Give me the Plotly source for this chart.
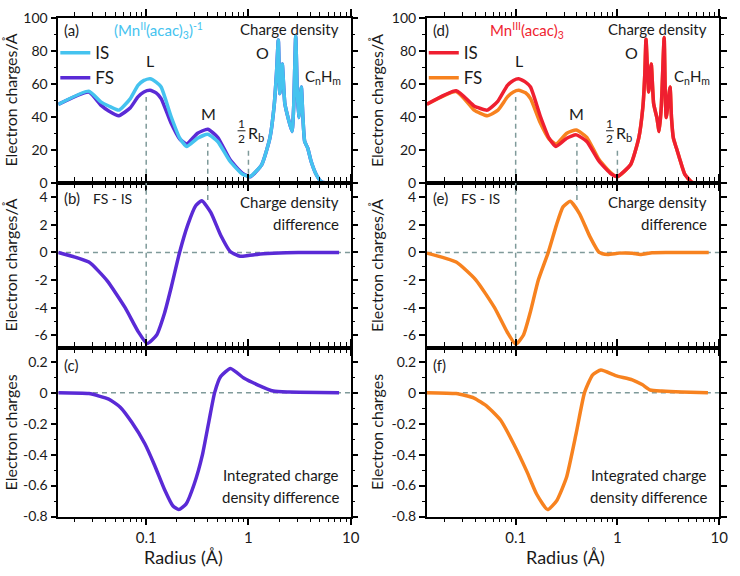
import plotly.graph_objects as go

# ---------------- data ----------------
# (a) charge density, (Mn^II(acac)3)^-1
r_a = [0.0138, 0.0275, 0.036, 0.043, 0.054, 0.07, 0.083, 0.095, 0.109, 0.125, 0.14, 0.174,
       0.213, 0.249, 0.318, 0.4, 0.5, 0.66, 0.87, 1.04, 1.35, 1.62, 1.78, 1.88, 1.96, 2.03,
       2.14, 2.27, 2.45, 2.67, 2.77, 2.9, 3.0, 3.1, 3.29, 3.41, 3.55, 3.8, 4.1, 4.6, 5.2, 6.0, 7.7]
is_a = [47.5, 55.5, 49, 46.5, 44, 51, 59, 62, 63, 61, 58, 40.6,
        27, 22, 27, 29.4, 25, 13, 5.3, 3.8, 11, 27, 46, 66, 86.5, 54,
        72, 48, 39, 31, 46, 89, 56, 39.5, 58, 39.5, 25, 21, 13, 5, 0.5, 0, 0]
fs_a = [47.5, 55, 47, 43.5, 40.6, 45.5, 52, 55, 56, 54.5, 51, 36.5,
        26.5, 23.5, 30, 32.4, 27.5, 14, 5.8, 3.6, 11, 27, 46, 66, 86.5, 54,
        72, 48, 39, 31, 46, 89, 56, 39.5, 58, 39.5, 25, 21, 13, 5, 0.5, 0, 0]

# (d) charge density, Mn^III(acac)3
r_d = [0.0134, 0.026, 0.036, 0.039, 0.0526, 0.067, 0.083, 0.095, 0.107, 0.125, 0.14, 0.174,
       0.213, 0.249, 0.318, 0.394, 0.5, 0.66, 0.87, 1.0, 1.35, 1.62, 1.78, 1.86, 1.91, 2.03,
       2.15, 2.27, 2.45, 2.57, 2.7, 2.88, 2.95, 3.02, 3.29, 3.4, 3.55, 3.8, 4.07, 4.6, 5.4, 6.0, 7.9]
is_d = [47.6, 55.8, 48.5, 46.5, 44, 49.5, 59, 62, 63, 61, 58, 40.6,
        27, 22, 27, 29, 25, 13, 5.3, 3.8, 11, 27, 46, 66, 87, 55,
        72, 48, 39, 31, 46, 88, 56, 39.5, 58, 39.5, 27, 21, 15, 5, 0.3, 0, 0]
fs_d = [47.6, 55.3, 46.5, 44, 40.6, 44, 52, 55, 56, 54.5, 51, 36.5,
        26.5, 23.5, 30, 32, 27.5, 14, 5.8, 3.6, 11, 27, 46, 66, 87, 55,
        72, 48, 39, 31, 46, 88, 56, 39.5, 58, 39.5, 27, 21, 15, 5, 0.3, 0, 0]

# (b) / (e) charge density difference FS - IS
r_b = [0.0138, 0.0275, 0.0414, 0.0622, 0.0837, 0.102, 0.126, 0.151, 0.176, 0.212, 0.255,
       0.306, 0.35, 0.428, 0.535, 0.667, 0.83, 1.0, 1.4, 2.35, 4.0, 7.7]
diff_b = [0.0, -0.7, -2.04, -4.0, -5.75, -6.6, -6.0, -4.4, -2.5, 0.0, 2.0,
          3.4, 3.75, 2.9, 1.25, 0.05, -0.28, -0.22, -0.1, -0.02, 0.0, 0.0]
r_e = [0.0134, 0.026, 0.0407, 0.062, 0.083, 0.1, 0.119, 0.139, 0.167, 0.209, 0.252,
       0.292, 0.344, 0.425, 0.532, 0.663, 0.8, 1.04, 1.4, 1.68, 2.19, 3.0, 4.5, 7.9]
diff_e = [-0.05, -0.7, -2.0, -4.0, -5.8, -6.65, -6.0, -4.35, -2.0, 0.0, 2.0,
          3.3, 3.7, 2.8, 1.2, 0.0, -0.15, -0.05, -0.06, -0.15, -0.02, 0.0, 0.0, 0.0]

# (c) / (f) integrated charge density difference
r_c = [0.0138, 0.0275, 0.043, 0.0557, 0.072, 0.097, 0.121, 0.151, 0.182, 0.208, 0.245,
       0.295, 0.355, 0.412, 0.467, 0.535, 0.667, 0.9, 1.21, 1.75, 2.5, 7.7]
int_c = [0.0, -0.006, -0.042, -0.094, -0.19, -0.33, -0.47, -0.625, -0.73, -0.755, -0.72,
         -0.59, -0.4, -0.18, 0.0, 0.104, 0.156, 0.094, 0.052, 0.01, 0.004, 0.0]
r_f = [0.0134, 0.026, 0.039, 0.0526, 0.071, 0.096, 0.129, 0.161, 0.206, 0.252, 0.315,
       0.394, 0.475, 0.571, 0.689, 0.96, 1.4, 1.75, 2.1, 2.73, 4.28, 7.76]
int_f = [0.0, -0.006, -0.035, -0.09, -0.177, -0.333, -0.51, -0.656, -0.755, -0.7, -0.55,
         -0.26, 0.0, 0.115, 0.146, 0.11, 0.083, 0.052, 0.017, 0.01, 0.004, 0.0]

# reference-line positions (L, M, 1/2 Rb) and their heights
ref_r = [0.1, 0.4, 1.0]
ref_top_a = [52, 24, 21.8]

x_major = [0.01, 0.1, 1, 10]
x_major_text = ["0.01", "0.1", "1", "10"]
x_minor = [k * 10.0 ** e for e in (-2, -1, 0) for k in range(2, 10)]

C_IS_L, C_FS_L = "#45c3ef", "#5a2ad6"
C_IS_R, C_FS_R = "#ef1f30", "#f7821f"
C_DASH = "#7f9a9a"
FONT = "Lato"
TXT = "#1a1a1a"

W, H = 740, 576
def PX(x): return x / W
def PY(y): return 1 - y / H

fig = go.Figure()

cols = {"L": (59, 355), "R": (432, 728)}
rows = {"a": (9, 179), "b": (179, 349), "c": (349, 523)}
ids = {("L", "a"): 1, ("L", "b"): 2, ("L", "c"): 3, ("R", "a"): 4, ("R", "b"): 5, ("R", "c"): 6}
xlo = {"L": -1.86, "R": -1.874}

yspec = {
    "a": dict(range=[0, 100], tickvals=[0, 20, 40, 60, 80, 100], ticktext=["0", "20", "40", "60", "80", "100"], minor=10),
    "b": dict(range=[-6.9, 5.05], tickvals=[-6, -4, -2, 0, 2, 4], ticktext=["-6", "-4", "-2", "0", "2", "4"], minor=1),
    "c": dict(range=[-0.8, 0.29], tickvals=[-0.8, -0.6, -0.4, -0.2, 0, 0.2], ticktext=["-0.8", "-0.6", "-0.4", "-0.2", "0", "0.2"], minor=0.1),
}

layout = dict(width=W, height=H, margin=dict(l=0, r=0, t=0, b=0), autosize=False,
              paper_bgcolor="white", plot_bgcolor="white",
              font=dict(family=FONT, color=TXT, size=15), showlegend=True)

for (c, rw), i in ids.items():
    sfx = "" if i == 1 else str(i)
    xa, ya = "xaxis" + sfx, "yaxis" + sfx
    x0, x1 = cols[c]
    y0, y1 = rows[rw]
    layout[xa] = dict(type="log", range=[xlo[c], 1.0], domain=[PX(x0), PX(x1)], anchor="y" + sfx,
                      showline=True, linecolor="black", linewidth=1.5, mirror="ticks",
                      ticks="outside", ticklen=7, tickwidth=1.5, tickcolor="black",
                      tickvals=x_major, ticktext=x_major_text, showticklabels=(rw == "c"),
                      showgrid=False, zeroline=False, tickfont=dict(size=15, color=TXT),
                      ticklabeloverflow="allow",
                      minor=dict(tickvals=x_minor, ticks="outside", ticklen=4, tickwidth=1.2,
                                 tickcolor="black", showgrid=False))
    ys = yspec[rw]
    layout[ya] = dict(range=ys["range"], domain=[PY(y1), PY(y0)], anchor="x" + sfx,
                      showline=True, linecolor="black", linewidth=1.5, mirror="ticks",
                      ticks="outside", ticklen=6, tickwidth=1.5, tickcolor="black",
                      tickvals=ys["tickvals"], ticktext=ys["ticktext"],
                      showgrid=False, zeroline=False, tickfont=dict(size=14, color=TXT),
                      ticklabeloverflow="allow",
                      minor=dict(dtick=ys["minor"], ticks="outside", ticklen=3, tickwidth=1.2,
                                 tickcolor="black", showgrid=False))

def ax(i):
    return ("x" if i == 1 else "x%d" % i), ("y" if i == 1 else "y%d" % i)

dash = dict(color=C_DASH, width=1.5, dash="5px,4px")

for c, off in (("L", 0), ("R", 3)):
    xa_, ya_ = ax(1 + off)
    for rr, top in zip(ref_r, ref_top_a):
        fig.add_trace(go.Scatter(x=[rr, rr], y=[0, top], mode="lines", line=dash,
                                 xaxis=xa_, yaxis=ya_, showlegend=False, hoverinfo="skip"))
    xb, yb = ax(2 + off)
    fig.add_trace(go.Scatter(x=[ref_r[0], ref_r[0]], y=[-6.9, 5.05], mode="lines", line=dash,
                             xaxis=xb, yaxis=yb, showlegend=False, hoverinfo="skip"))
    fig.add_trace(go.Scatter(x=[ref_r[1], ref_r[1]], y=[3.8, 5.05], mode="lines", line=dash,
                             xaxis=xb, yaxis=yb, showlegend=False, hoverinfo="skip"))
    fig.add_trace(go.Scatter(x=[0.0134, 10], y=[0, 0], mode="lines", line=dash,
                             xaxis=xb, yaxis=yb, showlegend=False, hoverinfo="skip"))
    xc, yc = ax(3 + off)
    fig.add_trace(go.Scatter(x=[0.0134, 10], y=[0, 0], mode="lines", line=dash,
                             xaxis=xc, yaxis=yc, showlegend=False, hoverinfo="skip"))

LW = 3.5
spl = dict(shape="spline", smoothing=0.5)

fig.add_trace(go.Scatter(x=r_a, y=fs_a, mode="lines", name="FS", line=dict(color=C_FS_L, width=LW, **spl),
                         xaxis="x", yaxis="y", legend="legend", legendrank=2))
fig.add_trace(go.Scatter(x=r_a, y=is_a, mode="lines", name="IS", line=dict(color=C_IS_L, width=LW, **spl),
                         xaxis="x", yaxis="y", legend="legend", legendrank=1))
fig.add_trace(go.Scatter(x=r_b, y=diff_b, mode="lines", line=dict(color=C_FS_L, width=LW, **spl),
                         xaxis="x2", yaxis="y2", showlegend=False))
fig.add_trace(go.Scatter(x=r_c, y=int_c, mode="lines", line=dict(color=C_FS_L, width=LW, **spl),
                         xaxis="x3", yaxis="y3", showlegend=False))
fig.add_trace(go.Scatter(x=r_d, y=fs_d, mode="lines", name="FS", line=dict(color=C_FS_R, width=LW, **spl),
                         xaxis="x4", yaxis="y4", legend="legend2", legendrank=2))
fig.add_trace(go.Scatter(x=r_d, y=is_d, mode="lines", name="IS", line=dict(color=C_IS_R, width=LW, **spl),
                         xaxis="x4", yaxis="y4", legend="legend2", legendrank=1))
fig.add_trace(go.Scatter(x=r_e, y=diff_e, mode="lines", line=dict(color=C_FS_R, width=LW, **spl),
                         xaxis="x5", yaxis="y5", showlegend=False))
fig.add_trace(go.Scatter(x=r_f, y=int_f, mode="lines", line=dict(color=C_FS_R, width=LW, **spl),
                         xaxis="x6", yaxis="y6", showlegend=False))

leg = dict(bgcolor="rgba(0,0,0,0)", font=dict(size=17, family=FONT, color=TXT), itemwidth=30,
           xanchor="left", yanchor="top", tracegroupgap=0)
layout["legend"] = dict(leg, x=PX(56), y=PY(27))
layout["legend2"] = dict(leg, x=PX(429), y=PY(27))

ann = []
def T(x, y, text, size=15, xanchor="center", color=TXT, angle=0):
    ann.append(dict(x=PX(x), y=PY(y), xref="paper", yref="paper", text=text, showarrow=False,
                    xanchor=xanchor, yanchor="middle", textangle=angle,
                    font=dict(size=size, color=color, family=FONT)))

shapes = []
for off, tag, title, tcol in ((0, "abc", "(Mn<sup>II</sup>(acac)<sub>3</sub>)<sup>-1</sup>", C_IS_L),
                              (373, "def", "Mn<sup>III</sup>(acac)<sub>3</sub>", C_IS_R)):
    T(63 + off, 22, "(%s)" % tag[0], 15, "left")
    T(160 + off, 22, title, 15, "center", tcol)
    T(345 + off, 21, "Charge density", 15, "right")
    T(152 + off, 53, "L", 16)
    T(211 + off, 108, "M", 16)
    T(266 + off, 45, "O", 16)
    T(307 + off, 70, "C<sub>n</sub>H<sub>m</sub>", 15, "left")
    T(244.5 + off, 118, "1", 12)
    T(244.5 + off, 133, "2", 12)
    shapes.append(dict(type="line", xref="paper", yref="paper", x0=PX(240.5 + off), x1=PX(248.5 + off),
                       y0=PY(125.5), y1=PY(125.5), line=dict(color=TXT, width=1)))
    T(249 + off, 128, "R<sub>b</sub>", 16, "left")
    T(63 + off, 195, "(%s)" % tag[1], 15, "left")
    T(92 + off, 195, "FS - IS", 14, "left")
    T(345 + off, 199, "Charge density", 15, "right")
    T(345 + off, 222, "difference", 15, "right")
    T(63 + off, 367, "(%s)" % tag[2], 15, "left")
    T(345 + off, 480, "Integrated charge", 15, "right")
    T(345 + off, 503, "density difference", 15, "right")
    T(10.5 + off - (3 if off else 0), 94, "Electron charges/Å", 16, angle=-90)
    T(10.5 + off - (3 if off else 0), 264, "Electron charges/Å", 16, angle=-90)
    T(10.5 + off - (3 if off else 0), 436, "Electron charges", 16, angle=-90)

T(186, 565, "Radius (Å)", 18)
T(572, 565, "Radius (Å)", 18)

layout["annotations"] = ann
layout["shapes"] = shapes
fig.update_layout(**layout)
fig.write_html("out.html")
